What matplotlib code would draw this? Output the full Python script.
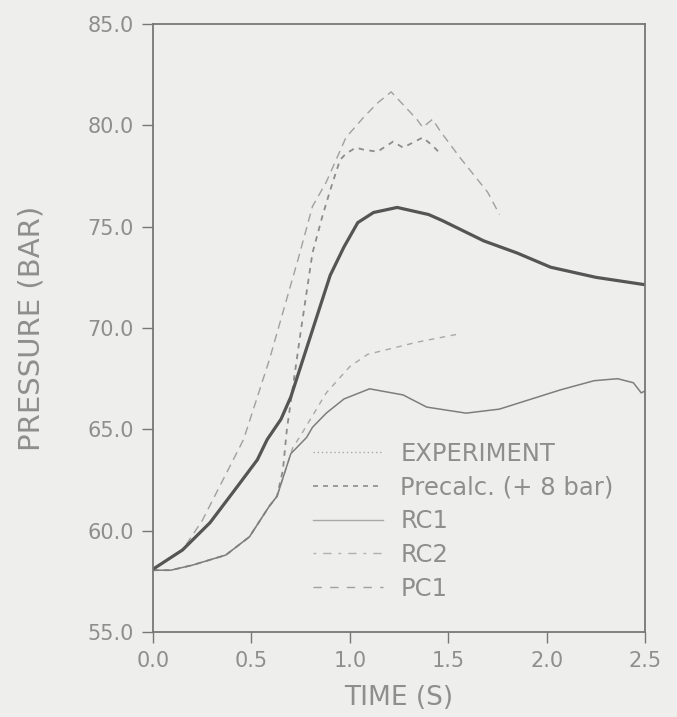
#!/usr/bin/env python3
"""
Pressure transient: experiment vs. pre- and post-calculations
"""

import matplotlib
matplotlib.use('Agg')
import matplotlib.pyplot as plt
from matplotlib.lines import Line2D

# Experiment (thick noisy trace)
t_exp = [0.0, 0.15, 0.29, 0.43, 0.53, 0.58, 0.65, 0.70, 0.81, 0.90, 0.97, 1.04,
         1.12, 1.24, 1.40, 1.47, 1.68, 1.85, 2.02, 2.25, 2.49, 2.5]
p_exp = [58.1, 59.05, 60.4, 62.2, 63.5, 64.5, 65.5, 66.6, 69.9, 72.6, 74.0, 75.2,
         75.7, 75.95, 75.6, 75.3, 74.3, 73.7, 73.0, 72.5, 72.15, 72.15]

# Precalc (+ 8 bar)
t_pre = [0.0, 0.09, 0.2, 0.37, 0.49, 0.59, 0.63, 0.66, 0.68, 0.75, 0.81, 0.86,
         0.90, 0.95, 0.98, 1.03, 1.07, 1.14, 1.22, 1.27, 1.31, 1.37, 1.42, 1.46]
p_pre = [58.05, 58.05, 58.3, 58.8, 59.7, 61.2, 61.7, 63.0, 65.0, 69.8, 73.7, 75.5,
         76.8, 78.3, 78.6, 78.9, 78.8, 78.7, 79.2, 78.9, 79.1, 79.4, 79.0, 78.6]

# RC1
t_rc1 = [0.0, 0.09, 0.2, 0.37, 0.49, 0.59, 0.63, 0.70, 0.78, 0.81, 0.88, 0.97,
         1.10, 1.27, 1.39, 1.59, 1.76, 2.07, 2.24, 2.36, 2.44, 2.48, 2.5]
p_rc1 = [58.05, 58.05, 58.3, 58.8, 59.7, 61.2, 61.7, 63.8, 64.6, 65.1, 65.8, 66.5,
         67.0, 66.7, 66.1, 65.8, 66.0, 66.95, 67.4, 67.5, 67.3, 66.8, 66.9]

# RC2
t_rc2 = [0.0, 0.09, 0.2, 0.37, 0.49, 0.59, 0.63, 0.71, 0.75, 0.88, 1.0, 1.09,
         1.34, 1.55]
p_rc2 = [58.05, 58.05, 58.3, 58.8, 59.7, 61.2, 61.7, 64.1, 64.7, 66.8, 68.1, 68.7,
         69.3, 69.7]

# PC1
t_pc1 = [0.0, 0.15, 0.25, 0.46, 0.59, 0.74, 0.81, 0.88, 0.93, 0.98, 1.07, 1.14,
         1.21, 1.34, 1.37, 1.42, 1.46, 1.56, 1.70, 1.76]
p_pc1 = [58.1, 59.05, 60.5, 64.5, 68.4, 73.5, 76.0, 77.2, 78.3, 79.4, 80.4, 81.1,
         81.65, 80.3, 79.9, 80.3, 79.7, 78.4, 76.7, 75.6]

x_ticks = [0.0, 0.5, 1.0, 1.5, 2.0, 2.5]
y_ticks = [55.0, 60.0, 65.0, 70.0, 75.0, 80.0, 85.0]
labels = ['EXPERIMENT', 'Precalc. (+ 8 bar)', 'RC1', 'RC2', 'PC1']

BG = '#eeeeec'
TXT = '#8e8e8e'
AX = '#777777'


def create_plot():
    fig = plt.figure(figsize=(6.77, 7.17), dpi=100, facecolor=BG)
    ax = fig.add_axes([0.226, 0.1185, 0.727, 0.848])
    ax.set_facecolor(BG)

    # curves
    ax.plot(t_pc1, p_pc1, color='#a0a0a0', lw=1.0, dashes=(6, 4))
    ax.plot(t_pre, p_pre, color='#8c8c8c', lw=1.3, dashes=(3, 3))
    ax.plot(t_rc2, p_rc2, color='#a8a8a8', lw=1.0, dashes=(4, 4))
    ax.plot(t_rc1, p_rc1, color='#7e7e7e', lw=1.1)
    ax.plot(t_exp, p_exp, color='#555555', lw=2.3)

    ax.set_xlim(0, 2.5)
    ax.set_ylim(55, 85)
    ax.set_xticks(x_ticks)
    ax.set_yticks(y_ticks)
    ax.set_xticklabels([f'{v:.1f}' for v in x_ticks])
    ax.set_yticklabels([f'{v:.1f}' for v in y_ticks])
    ax.tick_params(direction='out', length=8, width=1.0, color=AX,
                   labelcolor=TXT, labelsize=15, pad=6)
    for spine in ax.spines.values():
        spine.set_color(AX)
        spine.set_linewidth(1.3)

    ax.set_xlabel('TIME (S)', fontsize=19, color=TXT, labelpad=10)
    ax.set_ylabel('PRESSURE (BAR)', fontsize=21, color=TXT, labelpad=30)

    # legend
    handles = [
        Line2D([0], [0], color='#a8a8a8', lw=1.0, dashes=(1, 2)),
        Line2D([0], [0], color='#8c8c8c', lw=1.2, dashes=(3, 3)),
        Line2D([0], [0], color='#a8a8a8', lw=1.0),
        Line2D([0], [0], color='#b0b0b0', lw=1.0, dashes=(2, 5, 6, 5)),
        Line2D([0], [0], color='#a0a0a0', lw=1.0, dashes=(6, 6)),
    ]
    leg = ax.legend(handles, labels, loc='upper left', bbox_to_anchor=(0.30, 0.333),
                    frameon=False, fontsize=17.5, handlelength=2.9, handletextpad=0.7,
                    labelspacing=0.4, borderpad=0)
    for txt in leg.get_texts():
        txt.set_color(TXT)

    fig.savefig('out.png', dpi=100, facecolor=BG)
    plt.close(fig)


if __name__ == "__main__":
    create_plot()
